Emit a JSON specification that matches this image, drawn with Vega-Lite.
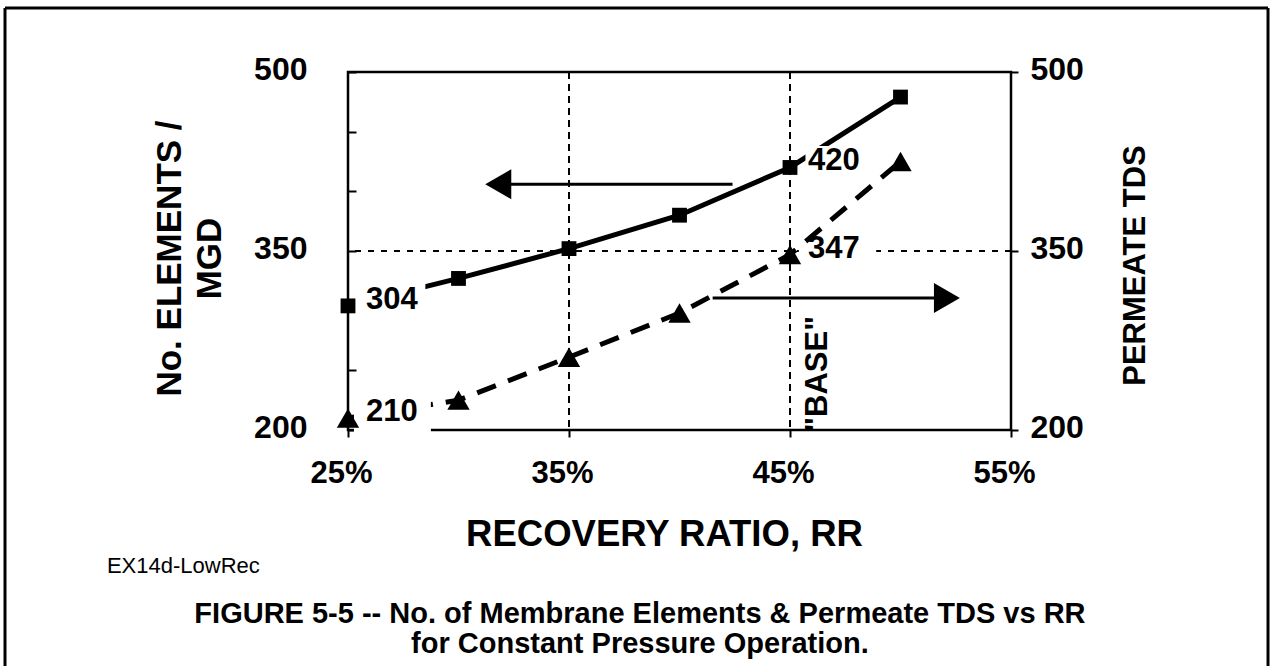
{
  "$schema": "https://vega.github.io/schema/vega-lite/v6.json",
  "width": 663,
  "height": 358,
  "autosize": {"type": "none"},
  "padding": {"left": 348, "top": 72, "right": 262, "bottom": 236},
  "background": "white",
  "config": {
    "font": "Liberation Sans",
    "view": {"stroke": "black", "strokeWidth": 2.5},
    "axis": {"labelColor": "black", "titleColor": "black", "tickColor": "black", "domainColor": "black", "labelFont": "Liberation Sans", "titleFont": "Liberation Sans", "labelFlush": false, "labelOverlap": false, "grid": false}
  },
  "datasets": {
    "series": [
      {"rr": 25, "elements": 304, "tds": 210},
      {"rr": 30, "elements": 327, "tds": 225},
      {"rr": 35, "elements": 352, "tds": 261},
      {"rr": 40, "elements": 380, "tds": 298},
      {"rr": 45, "elements": 420, "tds": 347},
      {"rr": 50, "elements": 479, "tds": 425}
    ],
    "labels": [
      {"rr": 25, "value": 304},
      {"rr": 25, "value": 210},
      {"rr": 45, "value": 420},
      {"rr": 45, "value": 347}
    ],
    "masks": [
      {"x1": 25.27, "x2": 28.5, "y1": 293.8, "y2": 326.5},
      {"x1": 25.27, "x2": 28.75, "y1": 194, "y2": 225},
      {"x1": 45.4, "x2": 48.9, "y1": 344, "y2": 356},
      {"x1": 45.7, "x2": 48.6, "y1": 411, "y2": 438}
    ],
    "arrows": [
      {"dir": "left", "start": 32, "end": 42.4, "head": 31.8, "level": 406},
      {"dir": "right", "start": 41.5, "end": 52.1, "head": 52.1, "level": 310.6}
    ],
    "one": [{}]
  },
  "layer": [
    {
      "layer": [
        {
          "data": {"name": "one"},
          "mark": {"type": "rule", "strokeDash": [7, 5], "strokeWidth": 2, "color": "black"},
          "encoding": {"x": {"datum": 35}}
        },
        {
          "data": {"name": "one"},
          "mark": {"type": "rule", "strokeDash": [7, 5], "strokeWidth": 2, "color": "black"},
          "encoding": {"x": {"datum": 45}}
        },
        {
          "data": {"name": "one"},
          "mark": {"type": "rule", "strokeDash": [6, 7], "strokeWidth": 2, "color": "black"},
          "encoding": {"y": {"datum": 350}}
        },
        {
          "data": {"name": "series"},
          "mark": {"type": "line", "strokeWidth": 5, "color": "black"},
          "encoding": {
            "x": {"field": "rr", "type": "quantitative", "scale": {"domain": [25, 55], "nice": false, "zero": false},
              "axis": {"values": [25, 35, 45, 55], "labelExpr": "datum.value + '%'", "labelFontSize": 31, "labelFontWeight": "bold", "labelPadding": 21, "labelOffset": -7, "tickSize": 7, "tickWidth": 2, "domain": false,
                "title": "RECOVERY RATIO, RR", "titleFontSize": 36.5, "titleFontWeight": "bold", "titleX": 316, "titleY": 115, "titleAlign": "center", "titleBaseline": "alphabetic"}},
            "y": {"field": "elements", "type": "quantitative", "scale": {"domain": [200, 500], "nice": false, "zero": false},
              "axis": {"orient": "left", "values": [200, 250, 300, 350, 400, 450, 500], "labelExpr": "(datum.value - 200) % 150 == 0 ? datum.label : ''", "labelFontSize": 32, "labelFontWeight": "bold", "labelPadding": 49, "labelOffset": -3, "tickSize": -8, "tickWidth": 2, "domain": false,
                "title": ["No. ELEMENTS /", "MGD"], "titleFontSize": 35, "titleFontWeight": "bold", "titleLineHeight": 40, "titleAngle": -90, "titleX": -168, "titleY": 186, "titleAlign": "center", "titleBaseline": "alphabetic"}}
          }
        },
        {
          "data": {"name": "series"},
          "mark": {"type": "line", "strokeWidth": 5, "color": "black", "strokeDash": [20, 13]},
          "encoding": {
            "x": {"field": "rr", "type": "quantitative"},
            "y": {"field": "tds", "type": "quantitative"}
          }
        },
        {
          "data": {"name": "masks"},
          "mark": {"type": "rect", "color": "white"},
          "encoding": {
            "x": {"field": "x1", "type": "quantitative"},
            "x2": {"field": "x2"},
            "y": {"field": "y1", "type": "quantitative"},
            "y2": {"field": "y2"}
          }
        },
        {
          "data": {"name": "series"},
          "mark": {"type": "point", "shape": "square", "filled": true, "size": 220, "color": "black", "opacity": 1},
          "encoding": {
            "x": {"field": "rr", "type": "quantitative"},
            "y": {"field": "elements", "type": "quantitative"}
          }
        },
        {
          "data": {"name": "arrows"},
          "mark": {"type": "rule", "strokeWidth": 3, "color": "black"},
          "encoding": {
            "x": {"field": "start", "type": "quantitative"},
            "x2": {"field": "end"},
            "y": {"field": "level", "type": "quantitative"}
          }
        },
        {
          "data": {"name": "arrows"},
          "mark": {"type": "point", "filled": true, "size": 900, "color": "black", "opacity": 1},
          "encoding": {
            "x": {"field": "head", "type": "quantitative"},
            "y": {"field": "level", "type": "quantitative"},
            "shape": {"field": "dir", "type": "nominal", "scale": {"domain": ["left", "right"], "range": ["triangle-left", "triangle-right"]}, "legend": null}
          }
        },
        {
          "data": {"name": "labels"},
          "mark": {"type": "text", "align": "left", "baseline": "middle", "dx": 18, "dy": -6, "fontSize": 31, "fontWeight": "bold", "font": "Liberation Sans", "color": "black"},
          "encoding": {
            "x": {"field": "rr", "type": "quantitative"},
            "y": {"field": "value", "type": "quantitative"},
            "text": {"field": "value", "type": "quantitative"}
          }
        },
        {
          "data": {"name": "one"},
          "mark": {"type": "text", "text": "\"BASE\"", "angle": 270, "align": "center", "baseline": "middle", "fontSize": 31, "fontWeight": "bold", "font": "Liberation Sans", "color": "black"},
          "encoding": {"x": {"datum": 46.25}, "y": {"datum": 247}}
        },
        {
          "data": {"name": "one"},
          "mark": {"type": "text", "text": "EX14d-LowRec", "align": "left", "baseline": "alphabetic", "fontSize": 22, "font": "Liberation Sans", "color": "black"},
          "encoding": {"x": {"datum": 14.09}, "y": {"datum": 80.2}}
        },
        {
          "data": {"name": "one"},
          "mark": {"type": "text", "text": ["FIGURE 5-5 -- No. of Membrane Elements & Permeate TDS vs RR", "for Constant Pressure Operation."], "align": "center", "baseline": "alphabetic", "lineHeight": 30, "fontSize": 29, "fontWeight": "bold", "font": "Liberation Sans", "color": "black"},
          "encoding": {"x": {"datum": 38.21}, "y": {"datum": 38.6}}
        },
        {
          "data": {"name": "one"},
          "mark": {"type": "rule", "strokeWidth": 3, "color": "black"},
          "encoding": {"x": {"datum": 9.48}, "y": {"datum": 553.6}, "y2": {"datum": -5}}
        },
        {
          "data": {"name": "one"},
          "mark": {"type": "rule", "strokeWidth": 3, "color": "black"},
          "encoding": {"x": {"datum": 66.63}, "y": {"datum": 553.6}, "y2": {"datum": -5}}
        },
        {
          "data": {"name": "one"},
          "mark": {"type": "rule", "strokeWidth": 3, "color": "black"},
          "encoding": {"x": {"datum": 9.48}, "x2": {"datum": 66.63}, "y": {"datum": 553.6}}
        }
      ]
    },
    {
      "data": {"name": "series"},
      "mark": {"type": "point", "shape": "triangle-up", "filled": true, "size": 500, "color": "black", "opacity": 1},
      "encoding": {
        "x": {"field": "rr", "type": "quantitative"},
        "y": {"field": "tds", "type": "quantitative", "scale": {"domain": [200, 500], "nice": false, "zero": false},
          "axis": {"orient": "right", "values": [200, 350, 500], "labelFontSize": 32, "labelFontWeight": "bold", "labelPadding": 12, "labelOffset": -3, "tickSize": 7, "tickWidth": 2, "domain": false,
            "title": "PERMEATE TDS", "titleFontSize": 31, "titleFontWeight": "bold", "titleAngle": -90, "titleX": 133, "titleY": 193, "titleAlign": "center", "titleBaseline": "alphabetic"}}
      }
    }
  ],
  "resolve": {"scale": {"y": "independent"}, "axis": {"y": "independent"}}
}
